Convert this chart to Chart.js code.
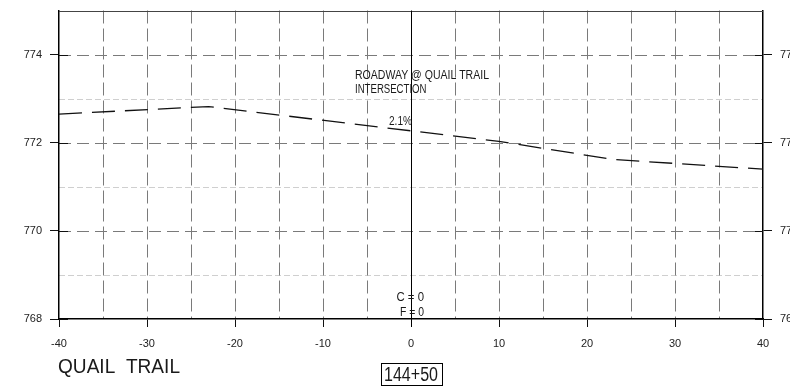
<!DOCTYPE html>
<html>
<head>
<meta charset="utf-8">
<script src="https://cdn.jsdelivr.net/npm/chart.js@4/dist/chart.umd.min.js"></script>
<style>
  html, body { margin: 0; padding: 0; background: #ffffff; }
  #wrap { width: 790px; height: 387px; position: relative; }
</style>
</head>
<body>
<div id="wrap"><canvas id="c"></canvas></div>
<script>
// ---- data ----
const stations = [-40, -23, 10, 23, 40];
const elevations = [772.65, 772.82, 772.03, 771.62, 771.40];
const xTicks = [-40, -30, -20, -10, 0, 10, 20, 30, 40];
const yTicks = [768, 770, 772, 774];
const gridX = [-35, -30, -25, -20, -15, -10, -5, 5, 10, 15, 20, 25, 30, 35];
const gridYMajor = [770, 772, 774];
const gridYMinor = [769, 771, 773];
const roadTitle = 'QUAIL  TRAIL';
const stationLabel = '144+50';
const noteLines = ['ROADWAY @ QUAIL TRAIL', 'INTERSECTION'];
const gradeLabel = '2.1%';
const cutFill = ['C = 0', 'F = 0'];

const FONT = '"Liberation Sans", "DejaVu Sans", sans-serif';

function fitText(ctx, text, x, y, w) {
  const m = ctx.measureText(text).width;
  ctx.save();
  ctx.translate(x, y);
  ctx.scale(w / m, 1);
  ctx.fillText(text, 0, 0);
  ctx.restore();
}

const gridPlugin = {
  id: 'cadGrid',
  beforeDraw(chart) {
    const { ctx, chartArea: a, scales } = chart;
    const xs = scales.x, ys = scales.y;
    ctx.save();
    ctx.lineWidth = 1;
    ctx.strokeStyle = '#cfcfcf';
    ctx.setLineDash([6, 3]);
    gridYMinor.forEach(v => {
      const y = Math.round(ys.getPixelForValue(v)) + 0.5;
      ctx.beginPath(); ctx.moveTo(a.left, y); ctx.lineTo(a.right, y); ctx.stroke();
    });
    ctx.strokeStyle = '#7a7a7a';
    ctx.setLineDash([12, 6]);
    gridYMajor.forEach(v => {
      const y = Math.round(ys.getPixelForValue(v)) + 0.5;
      ctx.beginPath(); ctx.moveTo(a.left, y); ctx.lineTo(a.right, y); ctx.stroke();
    });
    ctx.setLineDash([13, 5]);
    gridX.forEach(v => {
      const x = Math.round(xs.getPixelForValue(v)) + 0.5;
      ctx.beginPath(); ctx.moveTo(x, a.top); ctx.lineTo(x, a.bottom); ctx.stroke();
    });
    ctx.restore();
  },
  afterDatasetsDraw(chart) {
    const { ctx, chartArea: a, scales } = chart;
    const xs = scales.x, ys = scales.y;
    ctx.save();
    ctx.setLineDash([]);
    ctx.strokeStyle = '#444';
    ctx.lineWidth = 1;
    ctx.beginPath(); ctx.moveTo(a.left, Math.round(a.top) + 0.5); ctx.lineTo(a.right, Math.round(a.top) + 0.5); ctx.stroke();
    ctx.strokeStyle = '#000';
    const x0 = Math.round(xs.getPixelForValue(0)) + 0.5;
    ctx.beginPath(); ctx.moveTo(x0, a.top); ctx.lineTo(x0, a.bottom + 8); ctx.stroke();
    ctx.strokeStyle = '#111';
    yTicks.forEach(v => {
      const y = Math.round(ys.getPixelForValue(v)) + 0.5;
      ctx.beginPath(); ctx.moveTo(a.left, y); ctx.lineTo(a.left + 9, y); ctx.stroke();
      ctx.beginPath(); ctx.moveTo(a.right - 8, y); ctx.lineTo(a.right, y); ctx.stroke();
    });
    ctx.restore();
  },
  afterDraw(chart) {
    const { ctx, scales } = chart;
    const xs = scales.x;
    const x0 = xs.getPixelForValue(0);
    ctx.save();
    ctx.fillStyle = '#1a1a1a';
    ctx.textBaseline = 'alphabetic';
    ctx.textAlign = 'left';
    ctx.font = '12px ' + FONT;
    fitText(ctx, noteLines[0], 355, 78.5, 134);
    fitText(ctx, noteLines[1], 355, 92.5, 71.5);
    ctx.font = '13px ' + FONT;
    fitText(ctx, gradeLabel, 389, 125, 23);
    ctx.font = '12px ' + FONT;
    fitText(ctx, cutFill[0], x0 - 14.5, 300.8, 27.5);
    fitText(ctx, cutFill[1], x0 - 11, 315.8, 24);
    ctx.font = '20px ' + FONT;
    fitText(ctx, roadTitle, 58, 372.5, 122);
    ctx.font = '19.5px ' + FONT;
    fitText(ctx, stationLabel, x0 - 27, 381, 54);
    ctx.strokeStyle = '#000';
    ctx.lineWidth = 1;
    ctx.strokeRect(Math.round(x0 - 30.5) + 0.5, 363.5, 61, 22);
    ctx.restore();
  }
};

const fixedTicks = (scale) => { scale.ticks = yTicks.map(v => ({ value: v })); };
const fitY = (w) => (scale) => { scale.width = w; scale.paddingTop = 0; scale.paddingBottom = 0; };

new Chart(document.getElementById('c'), {
  type: 'line',
  data: {
    datasets: [{
      data: stations.map((s, i) => ({ x: s, y: elevations[i] })),
      borderColor: '#111',
      borderWidth: 1.3,
      borderDash: [23, 10],
      pointRadius: 0,
      tension: 0,
      fill: false
    }]
  },
  options: {
    responsive: true,
    maintainAspectRatio: false,
    animation: false,
    devicePixelRatio: 1,
    layout: { padding: { top: 10.5, left: 0, right: 0, bottom: 0 } },
    plugins: { legend: { display: false }, tooltip: { enabled: false } },
    scales: {
      x: {
        type: 'linear', min: -40, max: 40,
        afterBuildTicks: (scale) => { scale.ticks = xTicks.map(v => ({ value: v })); },
        afterFit: (scale) => { scale.height = 68; scale.paddingLeft = 0; scale.paddingRight = 0; },
        grid: { drawOnChartArea: false, drawTicks: true, tickLength: 8, color: '#111', lineWidth: 1 },
        border: { display: true, color: '#000', width: 1.5 },
        ticks: { color: '#222', font: { family: FONT, size: 11 }, padding: 10, maxRotation: 0, autoSkip: false }
      },
      y: {
        type: 'linear', position: 'left', min: 768, max: 775,
        afterBuildTicks: fixedTicks,
        afterFit: fitY(59),
        grid: { drawOnChartArea: false, drawTicks: true, tickLength: 9, color: '#111', lineWidth: 1 },
        border: { display: true, color: '#000', width: 1.5 },
        ticks: { color: '#222', font: { family: FONT, size: 11 }, padding: 8, autoSkip: false }
      },
      y2: {
        type: 'linear', position: 'right', min: 768, max: 775,
        afterBuildTicks: fixedTicks,
        afterFit: fitY(27),
        grid: { drawOnChartArea: false, drawTicks: true, tickLength: 9, color: '#111', lineWidth: 1 },
        border: { display: true, color: '#000', width: 1.5 },
        ticks: { color: '#222', font: { family: FONT, size: 11 }, padding: 8, autoSkip: false }
      }
    }
  },
  plugins: [gridPlugin]
});
</script>
</body>
</html>
